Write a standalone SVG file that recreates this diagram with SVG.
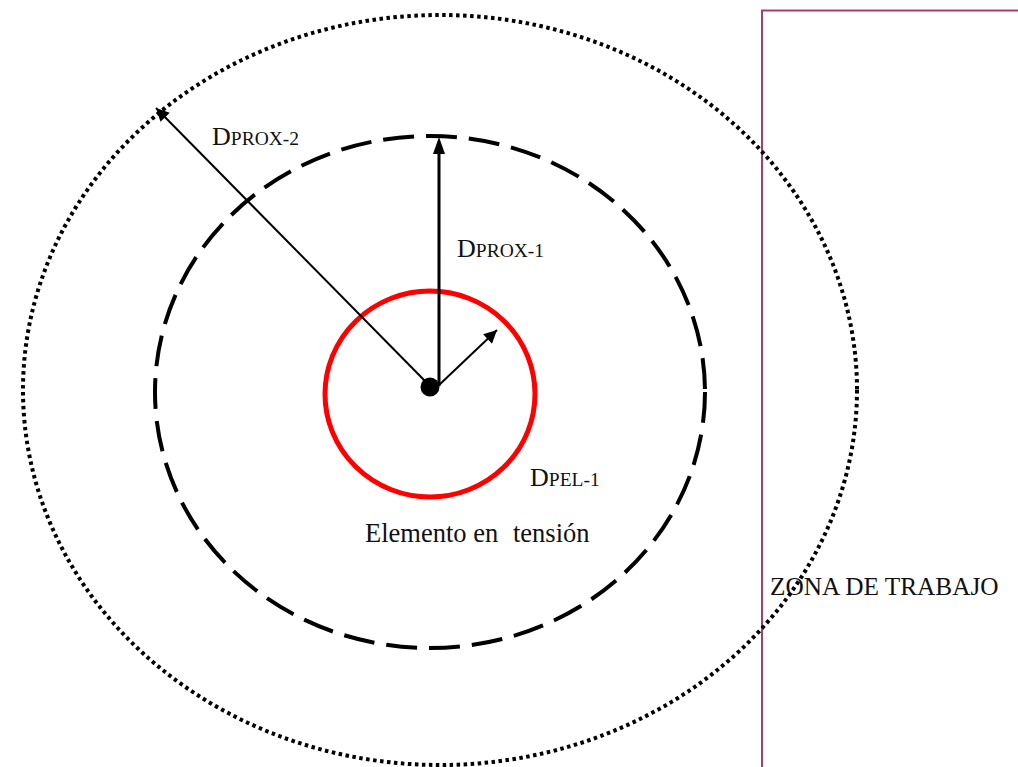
<svg xmlns="http://www.w3.org/2000/svg" width="1018" height="767" viewBox="0 0 1018 767">
<style>
.t{font-family:"Liberation Serif","Times New Roman",serif;fill:#111}
.sc{font-size:19.5px}
.ln{stroke:#000;fill:none}
</style>
<defs>
<marker id="ah" viewBox="0 0 10 10" refX="10" refY="5" markerWidth="7.5" markerHeight="6.5" orient="auto" markerUnits="strokeWidth">
<path d="M0,0 L10,5 L0,10 z" fill="#000"/>
</marker>
</defs>
<rect width="1018" height="767" fill="#fff"/>
<g id="zona">
<rect x="762" y="10.5" width="270" height="770" fill="none" stroke="#a04070" stroke-width="2"/>
<text class="t" x="770" y="595" font-size="25.3">ZONA DE TRABAJO</text>
</g>
<g id="prox2">
<ellipse cx="440" cy="390" rx="417" ry="375" class="ln" stroke-width="4" stroke-dasharray="3.5 3.5"/>
</g>
<g id="prox1">
<ellipse cx="430" cy="392" rx="275" ry="256" class="ln" stroke-width="4" stroke-dasharray="31 12"/>
</g>
<g id="pel">
<ellipse cx="430" cy="394" rx="105" ry="103" fill="none" stroke="#ff0000" stroke-width="5"/>
<text class="t" x="365" y="542" font-size="26.5">Elemento en<tspan x="513">tensión</tspan></text>
</g>
<g id="centro">
<circle cx="430" cy="387" r="9.5" fill="#000"/>
</g>
<g id="connectors">
<line x1="426" y1="382" x2="156" y2="108" class="ln" stroke-width="2" marker-end="url(#ah)"/>
<path d="M439,386 V152" class="ln" stroke-width="3"/>
<path d="M439,137 L433,154 L445,154 z" fill="#000"/>
<line x1="438" y1="386" x2="497" y2="330" class="ln" stroke-width="2" marker-end="url(#ah)"/>
</g>
<g id="labels">
<text class="t" x="212" y="145" font-size="26">D<tspan class="sc">PROX-2</tspan></text>
<text class="t" x="457" y="257" font-size="26">D<tspan class="sc">PROX-1</tspan></text>
<text class="t" x="530" y="486" font-size="26">D<tspan class="sc">PEL-1</tspan></text>
</g>
</svg>
